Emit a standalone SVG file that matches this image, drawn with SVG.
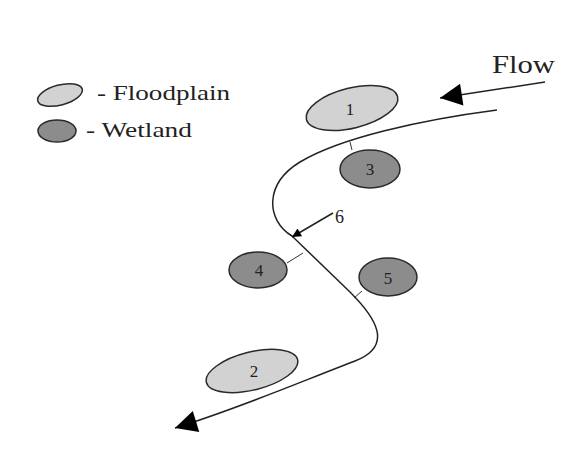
<svg xmlns="http://www.w3.org/2000/svg" width="570" height="451" viewBox="0 0 570 451">
<style>
.fp{fill:#d2d2d2;stroke:#2a2a2a;stroke-width:1.5}
.wl{fill:#8c8c8c;stroke:#2a2a2a;stroke-width:1.5}
.t{font-family:"Liberation Serif",serif;fill:#222}
.lbl{font-size:17px;text-anchor:middle}
.ln{fill:none;stroke:#222;stroke-width:1.5}
.thin{fill:none;stroke:#333;stroke-width:1}
</style>
<defs>
<marker id="big" viewBox="0 0 10 10" refX="10" refY="5" markerWidth="34" markerHeight="22" markerUnits="userSpaceOnUse" orient="auto"><path d="M0,0 L10,5 L0,10 Z" fill="#000"/></marker>
<marker id="small" viewBox="0 0 10 10" refX="10" refY="5" markerWidth="12" markerHeight="9" markerUnits="userSpaceOnUse" orient="auto"><path d="M0,0 L10,5 L0,10 Z" fill="#000"/></marker>
</defs>
<rect width="570" height="451" fill="#fff"/>
<g id="legend">
<ellipse class="fp" cx="60" cy="95" rx="23" ry="10" transform="rotate(-15 60 95)"/>
<text class="t" x="97" y="100" font-size="21" textLength="133" lengthAdjust="spacingAndGlyphs">- Floodplain</text>
<ellipse class="wl" cx="57" cy="131" rx="19" ry="11"/>
<text class="t" x="86" y="137" font-size="21" textLength="106" lengthAdjust="spacingAndGlyphs">- Wetland</text>
</g>
<g id="connectors">
<path class="ln" d="M497 110 C420 120 340 138 300 162 C264 184 266 220 292 236 L350 292 C376 318 394 346 355 361 C300 382 240 408 175 428" marker-end="url(#big)"/>
<line class="ln" x1="545" y1="82" x2="440" y2="98" marker-end="url(#big)"/>
<line class="ln" x1="333" y1="213" x2="292" y2="237" marker-end="url(#small)"/>
<line class="thin" x1="352" y1="150" x2="350" y2="142"/>
<line class="thin" x1="287" y1="263" x2="303" y2="253"/>
<line class="thin" x1="362" y1="291" x2="354" y2="298"/>
</g>
<g id="flow-label"><text class="t" x="492" y="73" font-size="26" textLength="63" lengthAdjust="spacingAndGlyphs">Flow</text></g>
<g id="n1"><ellipse class="fp" cx="352" cy="108" rx="47" ry="20" transform="rotate(-14 352 108)"/><text class="t lbl" x="350" y="115">1</text></g>
<g id="n3"><ellipse class="wl" cx="370" cy="169" rx="30" ry="19"/><text class="t lbl" x="370" y="175">3</text></g>
<g id="n4"><ellipse class="wl" cx="258" cy="270" rx="29" ry="18"/><text class="t lbl" x="259" y="276">4</text></g>
<g id="n5"><ellipse class="wl" cx="388" cy="277" rx="29" ry="19"/><text class="t lbl" x="388" y="284">5</text></g>
<g id="n2"><ellipse class="fp" cx="252" cy="371" rx="47" ry="19" transform="rotate(-14 252 371)"/><text class="t lbl" x="254" y="377">2</text></g>
<g id="n6"><text class="t" x="335" y="223" font-size="18">6</text></g>
</svg>
